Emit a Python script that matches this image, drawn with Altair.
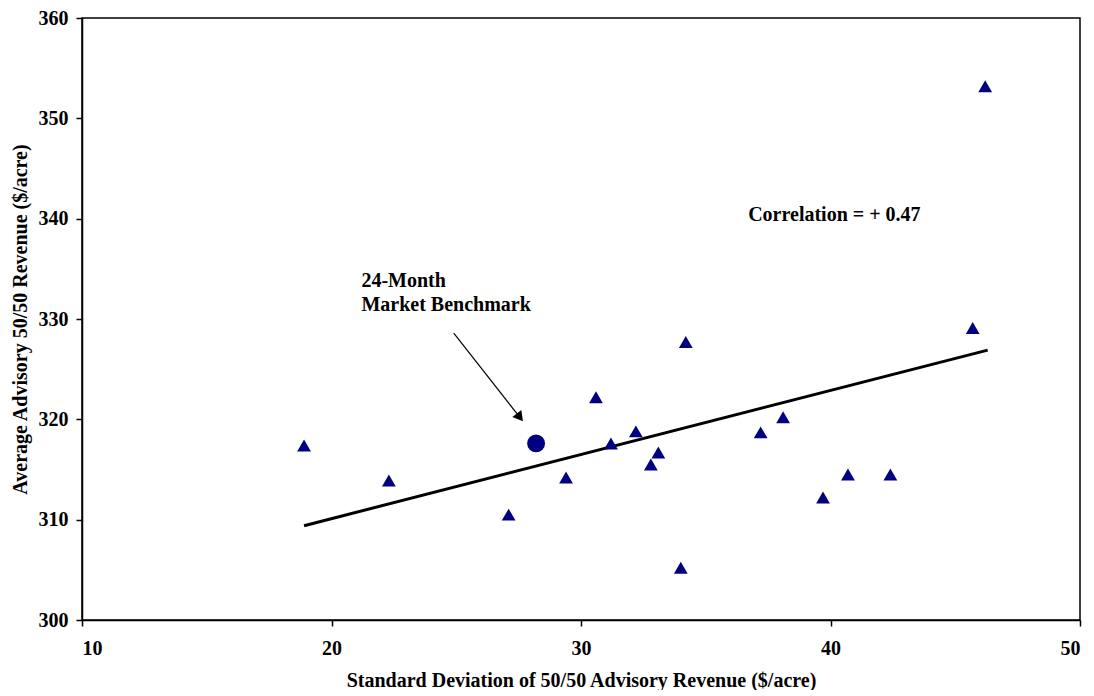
import altair as alt
import pandas as pd

# Advisory programs: std dev (x) and average revenue (y)
adv_sd = [18.9, 22.3, 27.1, 29.4, 30.6, 31.2, 32.2, 32.8, 33.1, 34.0, 34.2,
          37.2, 38.1, 39.7, 40.7, 42.4, 45.7, 46.2]
adv_rev = [317.4, 313.9, 310.5, 314.2, 322.2, 317.6, 318.8, 315.5, 316.7, 305.2, 327.7,
           318.7, 320.2, 312.2, 314.5, 314.5, 329.1, 353.2]

bench_sd = [28.2]
bench_rev = [317.6]

trend_sd = [18.9, 46.3]
trend_rev = [309.4, 326.9]

arrow_sd = [24.9, 27.55]
arrow_rev = [328.6, 320.2]

FONT = "Liberation Serif"

adv = pd.DataFrame({"x": adv_sd, "y": adv_rev})
bench = pd.DataFrame({"x": bench_sd, "y": bench_rev})
trend = pd.DataFrame({"x": trend_sd, "y": trend_rev})
arrow = pd.DataFrame({"x": arrow_sd, "y": arrow_rev})

xs = alt.Scale(domain=[10, 50], nice=False, zero=False)
ys = alt.Scale(domain=[300, 360], nice=False, zero=False)

xax = alt.Axis(values=[10, 20, 30, 40, 50], title="Standard Deviation of 50/50 Advisory Revenue ($/acre)",
               grid=False, tickSize=6, labelPadding=12, titlePadding=12)
yax = alt.Axis(values=[300, 310, 320, 330, 340, 350, 360], title="Average Advisory 50/50 Revenue ($/acre)",
               grid=False, tickSize=6, labelPadding=8, titlePadding=8)

pts = alt.Chart(adv).mark_point(shape="triangle-up", filled=True, color="#000080", size=190, opacity=1).encode(
    x=alt.X("x:Q", scale=xs, axis=xax),
    y=alt.Y("y:Q", scale=ys, axis=yax),
)

bm = alt.Chart(bench).mark_point(shape="circle", filled=True, color="#000080", size=320, opacity=1).encode(
    x=alt.X("x:Q", scale=xs), y=alt.Y("y:Q", scale=ys))

line = alt.Chart(trend).mark_line(color="black", strokeWidth=3).encode(
    x=alt.X("x:Q", scale=xs), y=alt.Y("y:Q", scale=ys))

arr = alt.Chart(arrow).mark_line(color="black", strokeWidth=1.2).encode(
    x=alt.X("x:Q", scale=xs), y=alt.Y("y:Q", scale=ys))

head = alt.Chart(arrow.iloc[[1]]).mark_point(shape="triangle-up", filled=True, color="black",
                                             size=130, angle=142, opacity=1).encode(
    x=alt.X("x:Q", scale=xs), y=alt.Y("y:Q", scale=ys))

labels = pd.DataFrame({
    "x": [21.2, 21.2, 36.7],
    "y": [333.8, 331.4, 340.4],
    "t": ["24-Month", "Market Benchmark", "Correlation = + 0.47"],
})
txt = alt.Chart(labels).mark_text(align="left", baseline="middle", font=FONT, fontWeight="bold",
                                  fontSize=20, color="black").encode(
    x=alt.X("x:Q", scale=xs), y=alt.Y("y:Q", scale=ys), text="t:N")

chart = alt.layer(line, arr, head, pts, bm, txt).properties(
    width=998, height=602,
    autosize=alt.AutoSizeParams(type="none"),
    padding={"left": 74, "top": 10, "right": 6, "bottom": 70},
).configure_view(stroke="black", strokeWidth=1.5).configure_axis(
    domainColor="black", domainWidth=1.5, tickColor="black", tickWidth=1.5,
    labelFont=FONT, labelFontSize=20, labelFontWeight="bold", labelColor="black",
    titleFont=FONT, titleFontSize=20, titleFontWeight="bold", titleColor="black",
)

chart.save("out.html", embed_options={"renderer": "svg", "actions": False})
